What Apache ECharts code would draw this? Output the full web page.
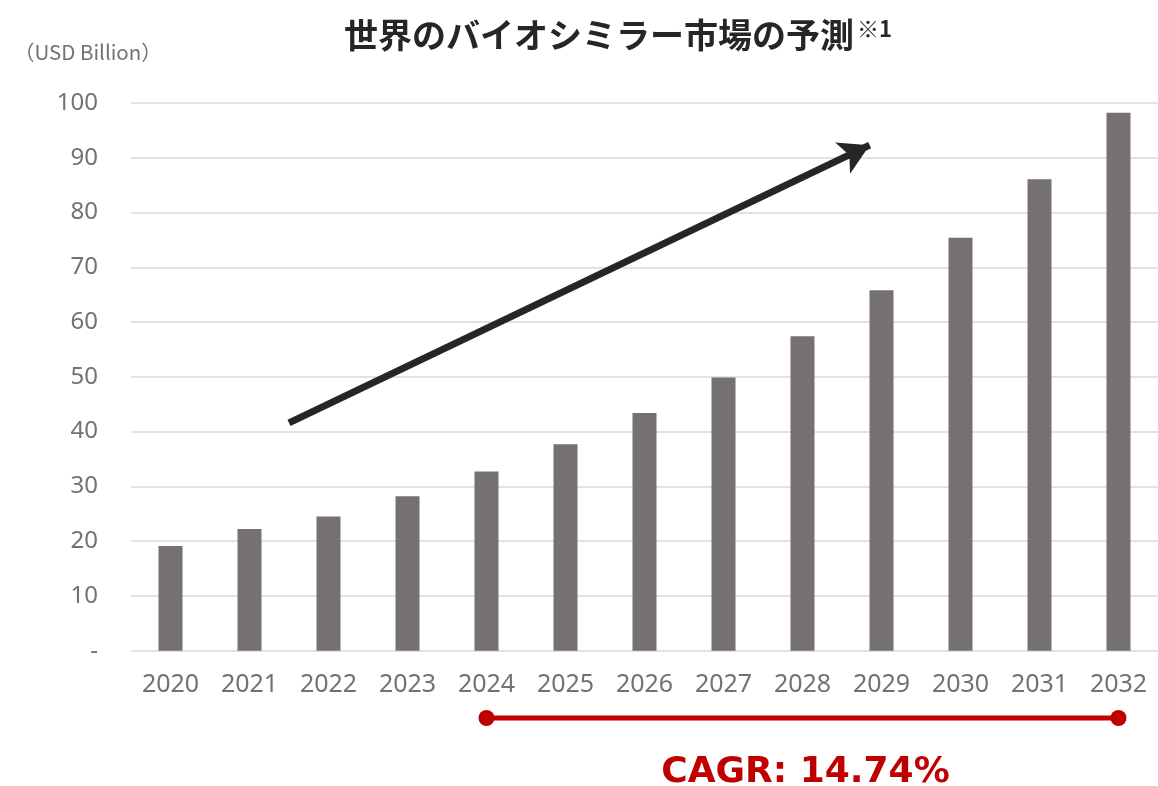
<!DOCTYPE html>
<html>
<head>
<meta charset="utf-8">
<title>世界のバイオシミラー市場の予測</title>
<script src="https://cdn.jsdelivr.net/npm/echarts@6/dist/echarts.min.js"></script>
<style>
  html, body { margin: 0; padding: 0; background: #fff; }
  #chart { width: 1158px; height: 786px; }
</style>
</head>
<body>
<div id="chart"></div>
<script>
const years = ['2020', '2021', '2022', '2023', '2024', '2025', '2026', '2027', '2028', '2029', '2030', '2031', '2032']
const marketSize = [19.1, 22.2, 24.5, 28.2, 32.7, 37.7, 43.4, 49.9, 57.4, 65.8, 75.4, 86.1, 98.2]
const yTicks = { min: 0, max: 100, interval: 10 }

// annotations
const titleText = '世界のバイオシミラー市場の予測'
const titleNote = '※1'
const unitText = '（USD Billion）'
const trendFrom = [1.5, 41.6]
const trendTo = [8.85, 92.3]
const cagrFrom = '2024'
const cagrTo = '2032'
const cagrText = 'CAGR: 14.74%'

const labelColor = '#767171'
const red = '#c00000'

const chart = echarts.init(document.getElementById('chart'))

chart.setOption({
  animation: false,
  title: {
    text: '{a|' + titleText + '}{b|' + titleNote + '}',
    left: 339,
    top: 13,
    textStyle: {
      rich: {
        a: {
          fontFamily: 'Noto Sans CJK JP',
          fontWeight: 'bold',
          fontSize: 34,
          color: '#262626'
        },
        b: {
          fontFamily: 'Noto Sans CJK JP',
          fontWeight: 'bold',
          fontSize: 22,
          color: '#262626',
          verticalAlign: 'top',
          padding: [0, 0, 12, 3]
        }
      }
    }
  },
  grid: {
    left: 131,
    top: 103,
    width: 1030.5,
    bottom: 135.3
  },
  xAxis: [
    {
      type: 'category',
      data: years,
      axisLine: { show: false },
      axisTick: { show: false },
      axisLabel: {
        color: labelColor,
        fontFamily: 'Noto Sans',
        fontSize: 25,
        margin: 22
      }
    },
    {
      // helper axis for the trend arrow
      type: 'value',
      min: -0.5,
      max: 12.5,
      show: false
    }
  ],
  yAxis: {
    type: 'value',
    min: yTicks.min,
    max: yTicks.max,
    interval: yTicks.interval,
    axisLine: { show: false },
    axisTick: { show: false },
    splitLine: {
      lineStyle: { color: '#d9d9d9', width: 1.5 }
    },
    axisLabel: {
      color: labelColor,
      fontFamily: 'Noto Sans',
      fontSize: 24,
      margin: 33,
      formatter: v => (v === 0 ? '-' : v)
    }
  },
  series: [
    {
      type: 'bar',
      data: marketSize,
      barWidth: 24,
      itemStyle: { color: '#767171' }
    },
    {
      type: 'line',
      xAxisIndex: 1,
      data: [],
      silent: true,
      markLine: {
        silent: true,
        symbol: ['none', 'arrow'],
        symbolSize: [26, 30],
        label: { show: false },
        lineStyle: { color: '#262626', width: 7, type: 'solid' },
        data: [[{ coord: trendFrom }, { coord: trendTo }]]
      }
    }
  ]
})

// CAGR bracket under the axis
const x1 = chart.convertToPixel({ xAxisIndex: 0 }, cagrFrom)
const x2 = chart.convertToPixel({ xAxisIndex: 0 }, cagrTo)
const lineY = 718

chart.setOption({
  graphic: [
    {
      type: 'text',
      left: 14,
      top: 42,
      style: {
        text: unitText,
        fill: labelColor,
        font: '20.5px "Noto Sans CJK JP"'
      }
    },
    {
      type: 'line',
      shape: { x1: x1, y1: lineY, x2: x2, y2: lineY },
      style: { stroke: red, lineWidth: 5 }
    },
    {
      type: 'circle',
      shape: { cx: x1, cy: lineY, r: 8 },
      style: { fill: red }
    },
    {
      type: 'circle',
      shape: { cx: x2, cy: lineY, r: 8 },
      style: { fill: red }
    },
    {
      type: 'text',
      x: (x1 + x2) / 2 + 3,
      y: 773,
      style: {
        text: cagrText,
        fill: red,
        font: 'bold 36px "DejaVu Sans"',
        align: 'center',
        verticalAlign: 'middle'
      }
    }
  ]
})
</script>
</body>
</html>
